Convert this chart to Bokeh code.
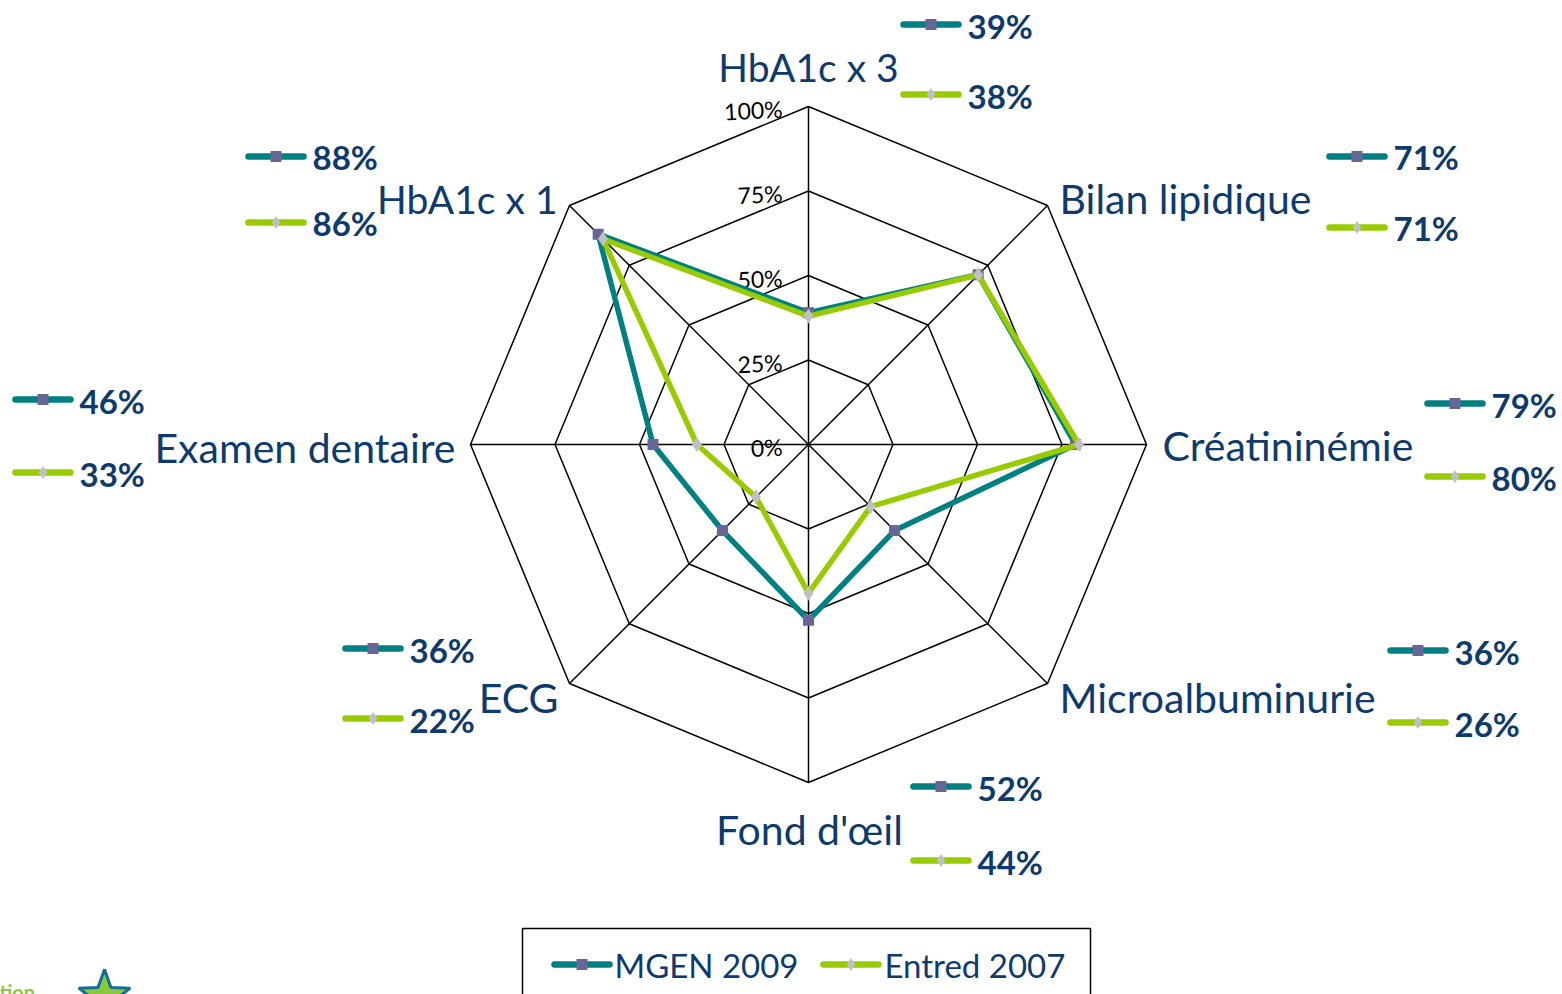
import numpy as np
from bokeh.plotting import figure
from bokeh.models import Range1d
from bokeh.core.properties import value
from bokeh.embed import file_html
from bokeh.resources import INLINE

# ---------------- data ----------------
categories = ["HbA1c x 3", "Bilan lipidique", "Créatininémie", "Microalbuminurie",
              "Fond d'œil", "ECG", "Examen dentaire", "HbA1c x 1"]
mgen_2009 = [39, 71, 79, 36, 52, 36, 46, 88]
entred_2007 = [38, 71, 80, 26, 44, 22, 33, 86]
ring_levels = [0, 25, 50, 75, 100]
ring_labels = ["0%", "25%", "50%", "75%", "100%"]
series_names = ["MGEN 2009", "Entred 2007"]

# ---------------- style ----------------
TEAL = "#008080"
LIME = "#99CC00"
SQ_COL = "#666699"
DIA_COL = "#C0C0C0"
NAVY = "#0E3A6C"
FONT = "Lato"
BASE_FIX = -13      # pixel correction for the alphabetic baseline

W, H = 1562, 994
S = 3.38            # pixels per percentage point
CX, CY = 808, 444   # pixel position of the chart centre


def wx(xw):
    return (xw - CX) / S


def wy(yw):
    return (CY - yw) / S


p = figure(width=W, height=H, x_range=Range1d(wx(0), wx(W)),
           y_range=Range1d(wy(H), wy(0)), output_backend="svg",
           toolbar_location=None, min_border=0)
p.axis.visible = False
p.grid.visible = False
p.outline_line_color = None
p.background_fill_color = "white"

n = len(categories)
theta = np.pi / 2 - np.arange(n) * 2 * np.pi / n
cos_t, sin_t = np.cos(theta), np.sin(theta)

# rings
for lvl in ring_levels[1:]:
    xs = list(lvl * cos_t) + [lvl * cos_t[0]]
    ys = list(lvl * sin_t) + [lvl * sin_t[0]]
    p.line(xs, ys, line_color="black", line_width=1.5)

# spokes
top = ring_levels[-1]
p.segment(x0=[0] * n, y0=[0] * n, x1=list(top * cos_t), y1=list(top * sin_t),
          line_color="black", line_width=1.5)

# tick labels
p.text(x=[0] * len(ring_levels), y=ring_levels, text=ring_labels,
       text_font=value(FONT), text_font_size="23px", text_color="black",
       text_align="right", text_baseline="middle", x_offset=-26, y_offset=2,
       angle=0.05)

# series
def closed(vals):
    v = np.array(vals, dtype=float)
    xs = v * cos_t
    ys = v * sin_t
    return list(xs) + [xs[0]], list(ys) + [ys[0]], list(xs), list(ys)

mx, my, mpx, mpy = closed(mgen_2009)
ex, ey, epx, epy = closed(entred_2007)
p.line(mx, my, line_color=TEAL, line_width=5.5, line_join="round")
p.scatter(mpx, mpy, marker="square", size=11, fill_color=SQ_COL, line_color=None)
p.line(ex, ey, line_color=LIME, line_width=5.5, line_join="round")
p.scatter(epx, epy, marker="diamond", size=15, fill_color=DIA_COL, line_color=None)

# category labels: (x offset px, baseline offset px, align, size) relative to outer vertex
cat_pos = [(0, -27, "center", 39), (12, 6, "left", 41), (16, 14, "left", 41),
           (12, 27, "left", 41), (1, 60, "center", 41), (-11, 27, "right", 41),
           (-15, 16, "right", 41), (-12, 7, "right", 39)]
for i, cat in enumerate(categories):
    dx, dy, al, fs = cat_pos[i]
    p.text(x=[top * cos_t[i]], y=[top * sin_t[i]], text=[cat],
           text_font=value(FONT), text_font_size=f"{fs}px", text_color=NAVY,
           text_align=al, text_baseline="alphabetic", x_offset=dx,
           y_offset=dy + BASE_FIX)

# data labels: (icon left dx, MGEN icon dy, Entred icon dy) in px from outer vertex
lab_pos = [(95, -82, -12), (282, -49, 22), (281, -41, 32), (343, -33, 39),
           (105, 4, 78), (-224, -35, 35), (-455, -45, 28), (-321, -49, 17)]
ICON_LEN = 55


def icon(xl, yc, color, marker, msize, mcolor):
    p.segment(x0=[xl], y0=[yc], x1=[xl + ICON_LEN / S], y1=[yc],
              line_color=color, line_width=6.5, line_cap="round")
    p.scatter([xl + ICON_LEN / 2 / S], [yc], marker=marker, size=msize,
              fill_color=mcolor, line_color=None)


for i in range(n):
    dx, dym, dye = lab_pos[i]
    vx, vy = top * cos_t[i], top * sin_t[i]
    xl = vx + dx / S
    for val, dyy, col, mk, ms, mc in [(mgen_2009[i], dym, TEAL, "square", 11, SQ_COL),
                                       (entred_2007[i], dye, LIME, "diamond", 13, DIA_COL)]:
        yc = vy - dyy / S
        icon(xl, yc, col, mk, ms, mc)
        p.text(x=[xl + 64 / S], y=[yc], text=[f"{val}%"],
               text_font=value(FONT), text_font_size="33px", text_font_style="bold",
               text_color=NAVY, text_align="left", text_baseline="alphabetic",
               y_offset=14 + BASE_FIX)

# legend box
p.quad(left=[wx(522)], right=[wx(1090)], top=[wy(928)], bottom=[wy(1030)],
       fill_color=None, line_color="black", line_width=1.5)
for name, xl_w, xt_w, col, mk, ms, mc in [
        (series_names[0], 554, 614, TEAL, "square", 11, SQ_COL),
        (series_names[1], 823, 884, LIME, "diamond", 13, DIA_COL)]:
    icon(wx(xl_w), wy(964), col, mk, ms, mc)
    p.text(x=[wx(xt_w)], y=[wy(964)], text=[name], text_font=value(FONT),
           text_font_size="33px", text_color=NAVY, text_align="left",
           text_baseline="alphabetic", y_offset=13 + BASE_FIX)

# partial logo in the lower-left corner
ang = np.pi / 2 + np.arange(10) * np.pi / 5
rad = np.where(np.arange(10) % 2 == 0, 27, 11)
star_x = [wx(104 + r * np.cos(a)) for r, a in zip(rad, ang)]
star_y = [wy(996 - r * np.sin(a)) for r, a in zip(rad, ang)]
p.patch(star_x, star_y, fill_color="#8DC63F", line_color="#0F6F96", line_width=3)
p.text(x=[wx(-1)], y=[wy(986)], text=["tion"], text_font=value(FONT),
       text_font_size="20px", text_font_style="bold", text_color="#8DC63F",
       text_align="left", text_baseline="alphabetic", y_offset=5)

open("out.html", "w").write(file_html(p, INLINE))
